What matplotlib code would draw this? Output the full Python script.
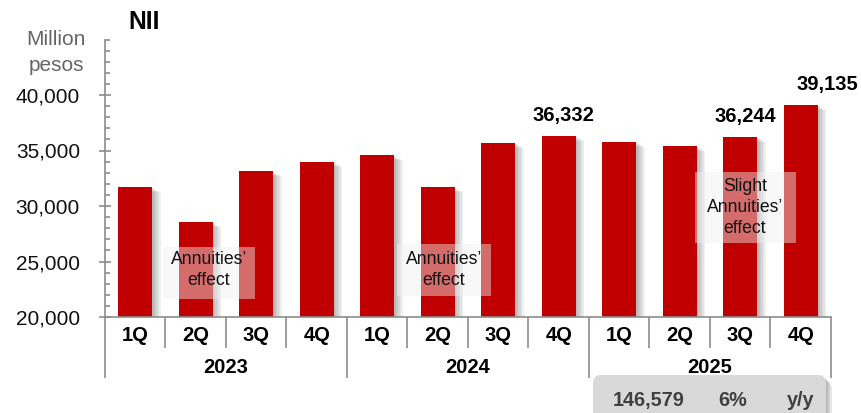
import matplotlib
matplotlib.use("Agg")
import matplotlib.pyplot as plt
import matplotlib.patheffects as pe
from matplotlib.patches import Rectangle, FancyBboxPatch
from matplotlib.transforms import Affine2D, blended_transform_factory

plt.rcParams["font.family"] = ["Liberation Sans", "DejaVu Sans"]

# Quarterly net interest income, million pesos
quarters = ["1Q", "2Q", "3Q", "4Q"] * 3
years = ["2023", "2024", "2025"]
nii = [31685, 28530, 33130, 34000,
       34570, 31685, 35700, 36332,
       35770, 35430, 36244, 39135]
labeled_bars = [7, 10, 11]
notes = ["Annuities’\neffect", "Annuities’\neffect", "Slight\nAnnuities’\neffect"]

y_major = [20000, 25000, 30000, 35000, 40000]
y_minor = [v for v in range(21000, 45001, 1000) if v not in y_major]

W, H = 862, 413
RED = "#C00000"
GREY = "#8C8C8C"

fig = plt.figure(figsize=(W / 100, H / 100), dpi=100)
# pixel coordinates measured from the top-left corner of the figure
pix = Affine2D().scale(1 / W, -1 / H).translate(0, 1) + fig.transFigure

ax = fig.add_axes([105 / W, 96 / H, 726 / W, 277.5 / H])
ax.set_xlim(0, 12)
ax.set_ylim(20000, 45000)

xs = [i + 0.5 for i in range(len(nii))]
shadow = [pe.SimplePatchShadow(offset=(d, -0.6 * d), shadow_rgbFace="#606060", alpha=0.09)
          for d in (1, 2, 3, 4, 5, 6)] + [pe.Normal()]
bars = ax.bar(xs, nii, width=0.56, color=RED, zorder=2)
for b in bars:
    b.set_path_effects(shadow)

for s in ("top", "right"):
    ax.spines[s].set_visible(False)
for s in ("left", "bottom"):
    ax.spines[s].set_color(GREY)
    ax.spines[s].set_linewidth(1.2)

ax.set_yticks(y_major)
ax.set_yticklabels([f"{v:,}" for v in y_major])
ax.set_yticks(y_minor, minor=True)
ax.tick_params(axis="y", which="major", direction="inout", length=8, width=1.2,
               color=GREY, labelsize=15, pad=14, labelcolor="#111111")
ax.tick_params(axis="y", which="minor", direction="in", length=3.6, width=1.2, color=GREY)
ax.set_xticks([])

# value labels
offsets = {7: 5, 10: 5, 11: 27}
for i in labeled_bars:
    ax.annotate(f"{nii[i]:,}", xy=(xs[i], nii[i]), xytext=(offsets[i], 15),
                textcoords="offset pixels", ha="center", va="baseline",
                fontsize=14.5, fontweight="bold", color="black", zorder=5)

# translucent note boxes
note_boxes = [(163, 247, 92, 52, 209, 270), (397, 244, 94, 52, 444, 270),
              (695, 172, 101, 71, 745, 207.5)]
for (bx, by, bw, bh, tx, ty), txt in zip(note_boxes, notes):
    fig.add_artist(Rectangle((bx, by), bw, bh, transform=pix, facecolor="#F0F0F0",
                             edgecolor="none", alpha=0.45, zorder=4))
    fig.text(tx, ty, txt, transform=pix, ha="center", va="center", fontsize=12.7,
             linespacing=1.3, color="#111111", zorder=5)

# category axis: quarters and years
trans = blended_transform_factory(ax.transData, pix)
for x, q in zip(xs, quarters):
    ax.text(x, 341, q, transform=trans, ha="center", va="baseline",
            fontsize=14.5, fontweight="bold")
for k, yr in enumerate(years):
    ax.text(4 * k + 2, 373, yr, transform=trans, ha="center", va="baseline",
            fontsize=14.5, fontweight="bold")
for k in range(13):
    bottom = 378 if k % 4 == 0 else 348
    ax.plot([k, k], [317, bottom], transform=trans, color=GREY, lw=1.2,
            clip_on=False, solid_capstyle="butt")

# title and unit
fig.text(144, 29, "NII", transform=pix, ha="center", va="baseline",
         fontsize=17.8, fontweight="bold")
fig.text(56, 45, "Million", transform=pix, ha="center", va="baseline",
         fontsize=15, color="#666666")
fig.text(56, 71, "pesos", transform=pix, ha="center", va="baseline",
         fontsize=15, color="#666666")

# annual total box
total_2025 = sum(nii[8:12])
total_2024 = sum(nii[4:8])
growth = round((total_2025 / total_2024 - 1) * 100)
for d, a in ((6, 0.2), (4, 0.25), (2, 0.3)):
    fig.add_artist(FancyBboxPatch((593 + d, 375 + d), 233, 50, transform=pix,
                                  boxstyle="round,pad=0,rounding_size=8",
                                  facecolor="#8A8A8A", edgecolor="none", alpha=a, zorder=3))
fig.add_artist(FancyBboxPatch((593, 375), 233, 50, transform=pix,
                              boxstyle="round,pad=0,rounding_size=8",
                              facecolor="#D9D9D9", edgecolor="none", zorder=4))
for tx, txt in ((649, f"{total_2025:,}"), (732.5, f"{growth}%"), (801, "y/y")):
    fig.text(tx, 406, txt, transform=pix, ha="center", va="baseline",
             fontsize=14.3, fontweight="bold", color="#404040", zorder=5)

fig.savefig("out.png", dpi=100)
